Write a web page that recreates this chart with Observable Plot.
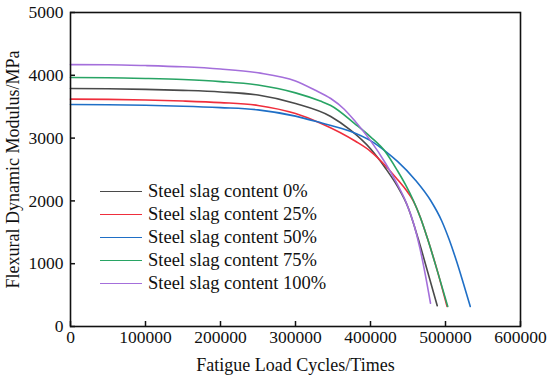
<!DOCTYPE html>
<html>
<head>
<meta charset="utf-8">
<script src="https://cdn.jsdelivr.net/npm/d3@7"></script>
<script src="https://cdn.jsdelivr.net/npm/@observablehq/plot@0.6"></script>
<style>
  html, body { margin: 0; padding: 0; background: white; }
  #wrap { position: relative; width: 550px; height: 385px; font-family: "Liberation Serif", "Times New Roman", Times, serif; }
  #legend { position: absolute; left: 100px; top: 180px; font-size: 18.5px; color: #111; font-family: "Liberation Serif", "Times New Roman", Times, serif; }
  .row { display: flex; align-items: center; height: 23px; white-space: nowrap; }
  .swatch { width: 42px; height: 0; border-top: 1.6px solid; margin-right: 6px; }
  svg text { font-family: "Liberation Serif", "Times New Roman", Times, serif; }
</style>
</head>
<body>
<div id="wrap"><div id="legend"></div></div>
<script>
const seriesNames = ["Steel slag content 0%", "Steel slag content 25%", "Steel slag content 50%", "Steel slag content 75%", "Steel slag content 100%"];
const seriesColors = ["#4a4a4a", "#ef2e3c", "#1f6fc6", "#28a464", "#a46fdb"];

const cycles0   = [0, 50000, 100000, 150000, 200000, 250000, 300000, 347000, 373000, 400000, 420000, 436000, 450000, 464000, 476000, 489000];
const modulus0  = [3790, 3786, 3776, 3760, 3735, 3685, 3550, 3344, 3130, 2830, 2520, 2230, 1900, 1380, 880, 330];

const cycles25  = [0, 50000, 100000, 150000, 200000, 250000, 300000, 335000, 380000, 400000, 420000, 436000, 447000, 457000, 467000, 476000, 490000, 502000];
const modulus25 = [3620, 3616, 3606, 3590, 3565, 3520, 3390, 3230, 2950, 2790, 2560, 2340, 2180, 2000, 1720, 1400, 850, 320];

const cycles50  = [0, 50000, 100000, 150000, 200000, 250000, 300000, 335000, 373000, 400000, 420000, 436000, 460000, 480000, 495000, 505000, 515000, 524000, 533000];
const modulus50 = [3535, 3531, 3522, 3508, 3485, 3450, 3350, 3240, 3110, 2960, 2790, 2630, 2330, 2010, 1680, 1380, 1030, 680, 320];

const cycles75  = [0, 50000, 100000, 150000, 200000, 250000, 300000, 333000, 347000, 380000, 400000, 420000, 436000, 447000, 457000, 467000, 476000, 490000, 503000];
const modulus75 = [3965, 3962, 3950, 3932, 3900, 3845, 3720, 3590, 3520, 3220, 3020, 2780, 2480, 2250, 2010, 1720, 1400, 850, 320];

const cycles100  = [0, 50000, 100000, 150000, 200000, 250000, 300000, 325000, 347000, 365000, 380000, 400000, 420000, 436000, 447000, 458000, 466000, 473000, 480000];
const modulus100 = [4170, 4168, 4155, 4135, 4100, 4040, 3910, 3770, 3630, 3460, 3260, 2960, 2600, 2260, 1990, 1620, 1240, 830, 370];

const xTicks = [0, 100000, 200000, 300000, 400000, 500000, 600000];
const yTicks = [0, 1000, 2000, 3000, 4000, 5000];
const xTitle = "Fatigue Load Cycles/Times";
const yTitle = "Flexural Dynamic Modulus/MPa";

const allCycles = [cycles0, cycles25, cycles50, cycles75, cycles100];
const allModulus = [modulus0, modulus25, modulus50, modulus75, modulus100];
const rows = [];
seriesNames.forEach((name, i) => {
  allCycles[i].forEach((c, j) => rows.push({series: name, cycles: c, modulus: allModulus[i][j]}));
});

const serif = "'Liberation Serif', 'Times New Roman', Times, serif";
const chart = Plot.plot({
  width: 550,
  height: 385,
  marginLeft: 70,
  marginRight: 30,
  marginTop: 12,
  marginBottom: 59,
  style: {fontFamily: serif, fontSize: "17.5px", background: "white", color: "#111"},
  x: {domain: [0, 600000]},
  y: {domain: [0, 5000]},
  color: {domain: seriesNames, range: seriesColors},
  marks: [
    Plot.line(rows, {x: "cycles", y: "modulus", z: "series", stroke: "series", curve: "monotone-x", strokeWidth: 1.6}),
    Plot.frame({stroke: "#111", strokeWidth: 1.6}),
    Plot.axisX(xTicks, {tickSize: -5, tickPadding: 9, tickFormat: d3.format("d"), label: null, fontSize: 17.5, strokeWidth: 1.5}),
    Plot.axisY(yTicks, {tickSize: -5, tickPadding: 12, tickFormat: d3.format("d"), label: null, fontSize: 17.5, strokeWidth: 1.5}),
    Plot.text([xTitle], {frameAnchor: "bottom", dy: 44, fontSize: 18, fill: "#111"}),
    Plot.text([yTitle], {frameAnchor: "left", textAnchor: "middle", rotate: -90, dx: -57, fontSize: 18, fill: "#111"})
  ]
});
const wrap = document.getElementById("wrap");
wrap.insertBefore(chart, wrap.firstChild);

const legend = document.getElementById("legend");
seriesNames.forEach((name, i) => {
  const row = document.createElement("div");
  row.className = "row";
  const sw = document.createElement("div");
  sw.className = "swatch";
  sw.style.borderTopColor = seriesColors[i];
  const label = document.createElement("span");
  label.textContent = name;
  row.appendChild(sw);
  row.appendChild(label);
  legend.appendChild(row);
});
</script>
</body>
</html>
